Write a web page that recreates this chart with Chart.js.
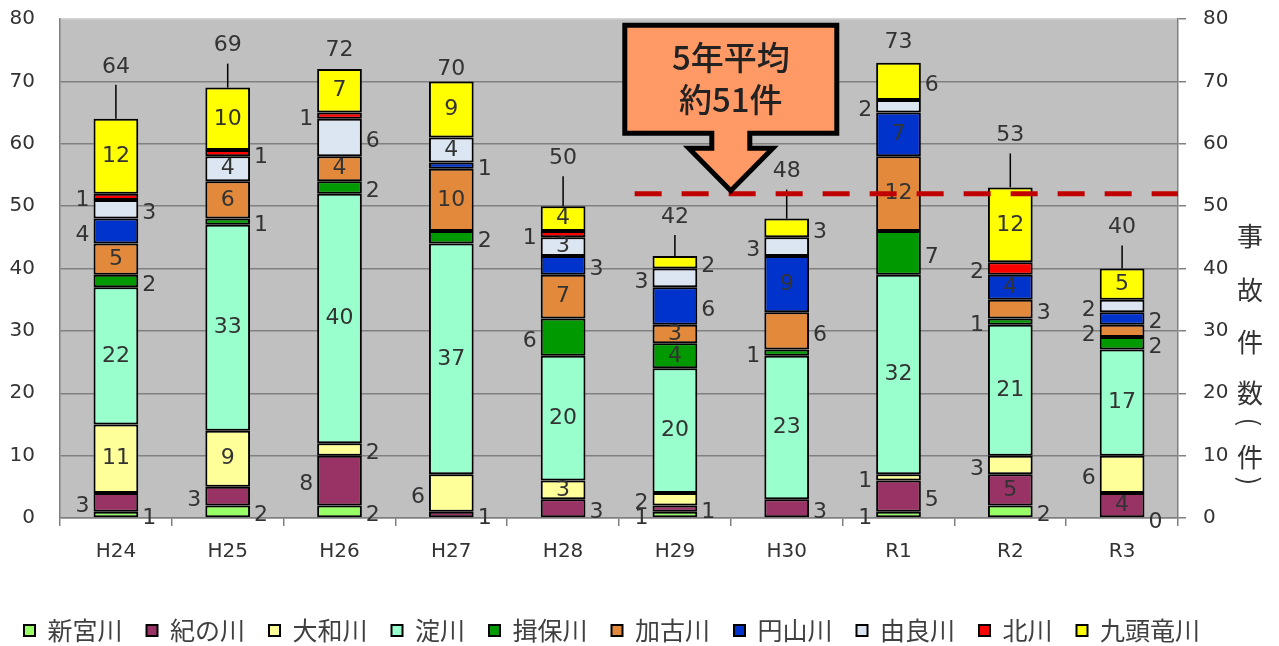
<!DOCTYPE html>
<html lang="ja">
<head>
<meta charset="utf-8">
<script src="https://cdn.jsdelivr.net/npm/chart.js@4.4.1/dist/chart.umd.min.js"></script>
<style>
  html, body { margin: 0; padding: 0; background: #fff; }
  #wrap { width: 1279px; height: 646px; }
</style>
</head>
<body>
<div id="wrap"><canvas id="accidentChart"></canvas></div>
<script>
// 年度
const years = ['H24', 'H25', 'H26', 'H27', 'H28', 'H29', 'H30', 'R1', 'R2', 'R3'];

// 水系別の事故件数（下から積み上げ順）
const shingu   = [1, 2, 2, 0, 0, 1, 0, 1, 2, 0];
const kinokawa = [3, 3, 8, 1, 3, 1, 3, 5, 5, 4];
const yamato   = [11, 9, 2, 6, 3, 2, 0, 1, 3, 6];
const yodo     = [22, 33, 40, 37, 20, 20, 23, 32, 21, 17];
const ibo      = [2, 1, 2, 2, 6, 4, 1, 7, 1, 2];
const kako     = [5, 6, 4, 10, 7, 3, 6, 12, 3, 2];
const maruyama = [4, 0, 0, 1, 3, 6, 9, 7, 4, 2];
const yura     = [3, 4, 6, 4, 3, 3, 3, 2, 0, 2];
const kita     = [1, 1, 1, 0, 1, 0, 0, 0, 2, 0];
const kuzuryu  = [12, 10, 7, 9, 4, 2, 3, 6, 12, 5];

const riverNames = ['新宮川', '紀の川', '大和川', '淀川', '揖保川', '加古川', '円山川', '由良川', '北川', '九頭竜川'];
const yTicks = [0, 10, 20, 30, 40, 50, 60, 70, 80];

// 5年平均の線
const avgValue = 52;
const avgText = ['5年平均', '約51件'];
const axisTitle = '事故件数（件）';

const riverData = [shingu, kinokawa, yamato, yodo, ibo, kako, maruyama, yura, kita, kuzuryu];
const riverColors = ['#99FF66', '#993366', '#FFFF99', '#99FFCC', '#009900',
                     '#E2893B', '#0033CC', '#DCE6F2', '#FF0000', '#FFFF00'];

// ラベルの置き場所 c=中, l=左, r=右, -=なし
const labelSides = [
  'rrr--l-lrr',
  'lllrrrrrcc',
  'ccrlcl-lll',
  'cccccccccc',
  'rrrrlclrlr',
  'ccccccrcrl',
  'l--rrrcccr',
  'rcrcclll-l',
  'lrl-l---l-',
  'cccccrrrcc'
];
// 合計ラベルの持ち上げ量(px)
const totalLift = [52, 42, 19, 12, 48, 39, 47, 20, 52, 41];

const numFont = "'DejaVu Sans', 'Noto Sans CJK JP', sans-serif";
const cjkFont = "'Noto Sans CJK JP', sans-serif";
Chart.defaults.font.family = numFont;

const plotBg = {
  id: 'plotBg',
  beforeDraw(chart) {
    const { ctx, chartArea: a } = chart;
    ctx.save();
    ctx.fillStyle = '#C0C0C0';
    ctx.fillRect(a.left, a.top, a.right - a.left, a.bottom - a.top);
    ctx.restore();
  }
};

const overlay = {
  id: 'overlay',
  afterDatasetsDraw(chart) {
    const { ctx, chartArea: a } = chart;
    const xs = chart.scales.x, ys = chart.scales.y;
    ctx.save();
    ctx.font = '22px ' + numFont;
    ctx.fillStyle = '#333';
    ctx.textAlign = 'center';
    ctx.textBaseline = 'middle';

    // 各セグメントの値
    chart.data.datasets.forEach((ds, i) => {
      chart.getDatasetMeta(i).data.forEach((bar, j) => {
        const side = labelSides[i][j];
        if (!side || side === '-') return;
        let x = bar.x, y = (bar.y + bar.base) / 2;
        if (side === 'l') { x -= bar.width / 2 + 11; y += 4; }
        if (side === 'r') { x += bar.width / 2 + 11; y += 4; }
        ctx.fillText(String(ds.data[j]), x, y);
      });
    });

    // 合計と引き出し線
    years.forEach((yr, j) => {
      const total = riverData.reduce((s, arr) => s + arr[j], 0);
      const x = xs.getPixelForValue(j);
      const top = ys.getPixelForValue(total);
      const ty = top - totalLift[j];
      ctx.fillText(String(total), x, ty);
      if (totalLift[j] > 25) {
        ctx.beginPath();
        ctx.strokeStyle = '#000';
        ctx.lineWidth = 1.5;
        ctx.moveTo(x, ty + 18);
        ctx.lineTo(x, top);
        ctx.stroke();
      }
    });

    // 平均線
    const ay = ys.getPixelForValue(avgValue);
    ctx.beginPath();
    ctx.setLineDash([27, 20]);
    ctx.strokeStyle = '#C00000';
    ctx.lineWidth = 5;
    ctx.moveTo(xs.getPixelForValue(4.64), ay);
    ctx.lineTo(a.right, ay);
    ctx.stroke();
    ctx.setLineDash([]);

    // 吹き出し矢印
    const tx = (xs.getPixelForValue(5) + xs.getPixelForValue(6)) / 2;
    const tip = ay;
    const bw = 106, sw = 19, hw = 42;
    const boxTop = tip - 168.5, boxBot = tip - 60.5, headTop = tip - 45.5;
    ctx.beginPath();
    ctx.moveTo(tx - bw, boxTop);
    ctx.lineTo(tx + bw, boxTop);
    ctx.lineTo(tx + bw, boxBot);
    ctx.lineTo(tx + sw, boxBot);
    ctx.lineTo(tx + sw, headTop);
    ctx.lineTo(tx + hw, headTop);
    ctx.lineTo(tx, tip - 3);
    ctx.lineTo(tx - hw, headTop);
    ctx.lineTo(tx - sw, headTop);
    ctx.lineTo(tx - sw, boxBot);
    ctx.lineTo(tx - bw, boxBot);
    ctx.closePath();
    ctx.fillStyle = '#FF9966';
    ctx.fill();
    ctx.lineWidth = 5;
    ctx.lineJoin = 'miter';
    ctx.strokeStyle = '#000';
    ctx.stroke();

    ctx.fillStyle = '#222';
    ctx.font = '500 33px ' + cjkFont;
    ctx.fillText(avgText[0], tx, tip - 136);
    ctx.fillText(avgText[1], tx, tip - 94);
    ctx.restore();
  },
  afterDraw(chart) {
    // 右軸タイトル（縦書き）
    const { ctx, chartArea: a } = chart;
    const offs = [217, 271, 323, 374, 403, 438, 462];
    const x = 1250;
    ctx.save();
    ctx.font = '26px ' + cjkFont;
    ctx.fillStyle = '#333';
    ctx.textAlign = 'center';
    ctx.textBaseline = 'middle';
    Array.from(axisTitle).forEach((ch, k) => {
      const y = a.top + offs[k];
      if (ch === '（' || ch === '）') {
        ctx.save();
        ctx.translate(x, y);
        ctx.rotate(Math.PI / 2);
        ctx.fillText(ch === '（' ? '(' : ')', 0, 0);
        ctx.restore();
      } else {
        ctx.fillText(ch, x, y);
      }
    });
    ctx.restore();
  }
};

const ctx = document.getElementById('accidentChart');

new Chart(ctx, {
  type: 'bar',
  data: {
    labels: years,
    datasets: riverData.map((arr, i) => ({
      label: riverNames[i],
      data: arr,
      backgroundColor: riverColors[i],
      borderColor: '#000',
      borderWidth: 2,
      borderSkipped: false,
      categoryPercentage: 1,
      barPercentage: 0.4
    }))
  },
  options: {
    responsive: true,
    maintainAspectRatio: false,
    animation: false,
    layout: { padding: { top: 19, right: 0, bottom: -7, left: 0 } },
    plugins: {
      tooltip: { enabled: false },
      legend: {
        position: 'bottom',
        align: 'start',
        labels: {
          boxWidth: 11,
          boxHeight: 11,
          padding: 24,
          color: '#404040',
          font: { family: cjkFont, size: 25 }
        }
      }
    },
    scales: {
      x: {
        stacked: true,
        grid: { drawOnChartArea: false, tickLength: 8, color: '#808080', lineWidth: 1.5 },
        border: { color: '#808080', width: 1.5 },
        ticks: { color: '#333', font: { size: 20 }, padding: 14 },
        afterFit(scale) { scale.height = 76; scale.paddingLeft = 0; scale.paddingRight = 0; }
      },
      y: {
        stacked: true,
        min: 0,
        max: 80,
        afterBuildTicks(scale) { scale.ticks = yTicks.map(v => ({ value: v })); },
        ticks: { color: '#333', font: { size: 20 }, padding: 25 },
        grid: {
          drawTicks: false,
          lineWidth: 1.5,
          color: c => (c.tick && c.tick.value === 80 ? '#d4d4d4' : '#808080')
        },
        border: { color: '#808080', width: 1.5 },
        afterFit(scale) { scale.width = 60; scale.paddingTop = 0; scale.paddingBottom = 0; }
      },
      y2: {
        position: 'right',
        min: 0,
        max: 80,
        afterBuildTicks(scale) { scale.ticks = yTicks.map(v => ({ value: v })); },
        ticks: { color: '#333', font: { size: 20 }, padding: 17 },
        grid: { drawOnChartArea: false, tickLength: 8, color: '#808080', lineWidth: 1.5 },
        border: { color: '#808080', width: 1.5 },
        afterFit(scale) { scale.width = 101; scale.paddingTop = 0; scale.paddingBottom = 0; }
      }
    }
  },
  plugins: [plotBg, overlay]
});
</script>
</body>
</html>
